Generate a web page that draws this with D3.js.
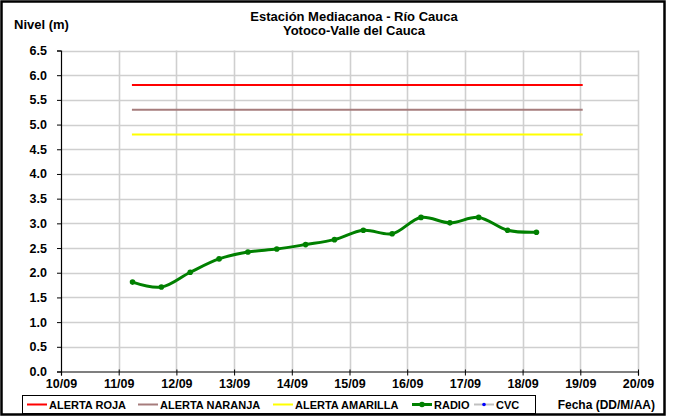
<!DOCTYPE html>
<html><head><meta charset="utf-8">
<script src="https://cdn.jsdelivr.net/npm/d3@7/dist/d3.min.js"></script>
<style>body{margin:0;background:#fff}svg{display:block;font-family:"Liberation Sans",Arial,sans-serif}</style>
</head><body><svg id="c" width="674" height="416"></svg>
<script>
const titleLines = ["Estación Mediacanoa - Río Cauca", "Yotoco-Valle del Cauca"];
const yTitle = "Nivel (m)";
const xTitle = "Fecha (DD/M/AA)";
const xTickLabels = ["10/09","11/09","12/09","13/09","14/09","15/09","16/09","17/09","18/09","19/09","20/09"];
const yTicks = [0,0.5,1,1.5,2,2.5,3,3.5,4,4.5,5,5.5,6,6.5];
const radioTimes = ["2011-09-11T05:45","2011-09-11T17:45","2011-09-12T05:45","2011-09-12T17:45","2011-09-13T05:45","2011-09-13T17:45","2011-09-14T05:45","2011-09-14T17:45","2011-09-15T05:45","2011-09-15T17:45","2011-09-16T05:45","2011-09-16T17:45","2011-09-17T05:45","2011-09-17T17:45","2011-09-18T05:45"];
const radioValues = [1.81,1.71,2.01,2.28,2.42,2.48,2.57,2.67,2.86,2.79,3.12,3.01,3.12,2.86,2.82];
const cvcTimes = [];
const cvcValues = [];
const alertSpan = ["2011-09-11T05:30","2011-09-19T01:00"];
const alertNames = ["ALERTA ROJA","ALERTA NARANJA","ALERTA AMARILLA"];
const alertValues = [5.8,5.3,4.8];
const alertColors = ["#ff0000","#a67c7c","#ffff00"];

const svg = d3.select("#c");
const parse = d3.isoParse;
const x = d3.scaleTime().domain([parse("2011-09-10T00:00"), parse("2011-09-20T00:00")]).range([61, 638]);
const y = d3.scaleLinear().domain([0, 6.5]).range([371.5, 50.5]);

// outer border
svg.append("rect").attr("x",1.5).attr("y",1.5).attr("width",663).attr("height",413)
  .attr("fill","none").attr("stroke","#000").attr("stroke-width",2.5);

// grid
const days = d3.range(0, 11).map(i => d3.timeDay.offset(parse("2011-09-10T00:00"), i));
svg.append("g").selectAll("line").data(yTicks.slice(1)).join("line")
  .attr("x1",61).attr("x2",638).attr("y1",d=>Math.round(y(d))+0.5).attr("y2",d=>Math.round(y(d))+0.5)
  .attr("stroke","#cfcfcf").attr("stroke-width",1.6);
svg.append("g").selectAll("line").data(days.slice(1)).join("line")
  .attr("x1",d=>Math.round(x(d))+0.5).attr("x2",d=>Math.round(x(d))+0.5).attr("y1",50.5).attr("y2",371.5)
  .attr("stroke","#cfcfcf").attr("stroke-width",1.6);

// axes
const yAxis = d3.axisLeft(y).tickValues(yTicks).tickFormat(d3.format(".1f")).tickSize(4).tickPadding(10);
const gy = svg.append("g").attr("transform","translate(61,0)").call(yAxis);
const xAxis = d3.axisBottom(x).tickValues(days).tickFormat((d,i)=>xTickLabels[i]).tickSize(4).tickPadding(4);
const gx = svg.append("g").attr("transform","translate(0,371.5)").call(xAxis);
[gy,gx].forEach(g=>{
  g.selectAll("path").attr("stroke","#000").attr("stroke-width",1.2);
  g.selectAll("line").attr("stroke","#000");
  g.selectAll("text").attr("fill","#000").style("font-size","12.5px").style("font-weight","bold").attr("font-family","Liberation Sans, Arial, sans-serif");
});
gx.selectAll(".tick line").attr("y1",-2);

// alert lines
alertValues.forEach((v,i)=>{
  svg.append("line").attr("x1",x(parse(alertSpan[0]))).attr("x2",x(parse(alertSpan[1])))
    .attr("y1",y(v)).attr("y2",y(v)).attr("stroke",alertColors[i]).attr("stroke-width",2);
});

// radio series
const radio = radioTimes.map((t,i)=>({t:parse(t), v:radioValues[i]}));
const line = d3.line().x(d=>x(d.t)).y(d=>y(d.v)).curve(d3.curveCatmullRom.alpha(0.5));
svg.append("path").datum(radio).attr("d",line).attr("fill","none").attr("stroke","#008000").attr("stroke-width",3);
svg.append("g").selectAll("circle").data(radio).join("circle")
  .attr("cx",d=>x(d.t)).attr("cy",d=>y(d.v)).attr("r",2.8).attr("fill","#008000");

// cvc series (no data)
const cvc = cvcTimes.map((t,i)=>({t:parse(t), v:cvcValues[i]}));
svg.append("g").selectAll("circle").data(cvc).join("circle")
  .attr("cx",d=>x(d.t)).attr("cy",d=>y(d.v)).attr("r",2).attr("fill","#0000ff");

// titles
const tt = svg.append("text").attr("x",354).attr("y",21).attr("text-anchor","middle")
  .style("font-size","13px").style("font-weight","bold");
titleLines.forEach((s,i)=>tt.append("tspan").attr("x",354).attr("dy",i?14:0).text(s));
svg.append("text").attr("x",14).attr("y",29).style("font-size","13px").style("font-weight","bold").text(yTitle);
svg.append("text").attr("x",655).attr("y",409).attr("text-anchor","end").style("font-size","12px").style("font-weight","bold").text(xTitle);

// legend
svg.append("rect").attr("x",22.5).attr("y",395.5).attr("width",513).attr("height",18).attr("fill","#fff").attr("stroke","#000").attr("stroke-width",1);
const legItems = [
  {name:alertNames[0], color:alertColors[0], x0:27, marker:null},
  {name:alertNames[1], color:alertColors[1], x0:138, marker:null},
  {name:alertNames[2], color:alertColors[2], x0:273, marker:null},
  {name:"RADIO", color:"#008000", x0:412, marker:"#008000", w:3},
  {name:"CVC", color:"#c0c0c0", x0:474, marker:"#0000ff", w:2}
];
legItems.forEach(it=>{
  svg.append("line").attr("x1",it.x0).attr("x2",it.x0+20).attr("y1",404.5).attr("y2",404.5)
    .attr("stroke",it.color).attr("stroke-width",it.w||2);
  if(it.marker) svg.append("circle").attr("cx",it.x0+10).attr("cy",404.5).attr("r",it.name==="RADIO"?2.8:1.8).attr("fill",it.marker);
  svg.append("text").attr("x",it.x0+22).attr("y",408.5).style("font-size","11px").style("font-weight","bold").text(it.name);
});
</script></body></html>
